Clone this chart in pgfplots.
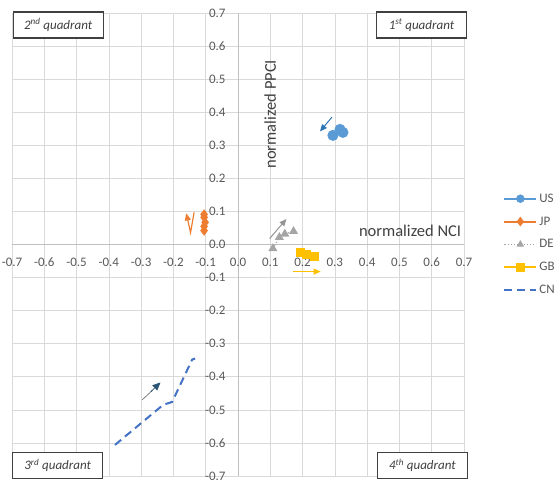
\documentclass[border=0pt]{standalone}
\usepackage{pgfplots}
\pgfplotsset{compat=1.18}
\usepackage{fontspec}
\setmainfont{Carlito}
\usetikzlibrary{arrows.meta,calc}

\definecolor{usblue}{HTML}{5B9BD5}
\definecolor{jporange}{HTML}{ED7D31}
\definecolor{degray}{HTML}{A5A5A5}
\definecolor{gbyellow}{HTML}{FFC000}
\definecolor{cnblue}{HTML}{4472C4}
\definecolor{gridgray}{HTML}{D9D9D9}
\definecolor{zerogray}{HTML}{BFBFBF}
\definecolor{ticktext}{HTML}{595959}
\definecolor{boxgray}{HTML}{404040}
\definecolor{arrowus}{HTML}{2E75B6}
\definecolor{arrowcn}{HTML}{2A5673}

\begin{document}
\begin{tikzpicture}
\begin{axis}[
  name=ax,
  scale only axis,
  width=452pt, height=463pt,
  xmin=-0.7, xmax=0.7, ymin=-0.7, ymax=0.7,
  axis lines=middle,
  every inner x axis line/.append style={-},
  every inner y axis line/.append style={-},
  axis line style={zerogray, line width=0.8pt},
  hide obscured x ticks=false,
  hide obscured y ticks=false,
  xtick={-0.7,-0.6,-0.5,-0.4,-0.3,-0.2,-0.1,0,0.1,0.2,0.3,0.4,0.5,0.6,0.7},
  ytick={-0.7,-0.6,-0.5,-0.4,-0.3,-0.2,-0.1,0,0.1,0.2,0.3,0.4,0.5,0.6,0.7},
  major tick length=0pt,
  grid=major,
  grid style={gridgray, line width=0.7pt},
  /pgf/number format/assume math mode=true,
  /pgf/number format/fixed,
  /pgf/number format/fixed zerofill,
  /pgf/number format/precision=1,
  ticklabel style={font=\fontsize{13}{15}\selectfont, text=ticktext},
  xticklabel style={anchor=north, yshift=-10pt},
  yticklabel style={anchor=east, xshift=-9pt},
  clip=false,
  legend style={at={(1.08,0.5)}, anchor=west, draw=none, fill=none,
    font=\fontsize{13}{15}\selectfont, text=ticktext, row sep=9pt},
  legend cell align=left,
  legend image code/.code={
    \draw[mark repeat=2, mark phase=2, mark size=3.2pt]
      plot coordinates {(0pt,0pt) (16pt,0pt) (32pt,0pt)};
  },
]
% trajectories of the five countries
\addplot[color=usblue, line width=2pt, mark=*, mark size=4.5pt,
  mark options={solid}] coordinates {(0.294,0.330) (0.325,0.339) (0.316,0.348)};
\addlegendentry{US}
\addplot[color=jporange, line width=2pt, mark=diamond*, mark size=3.5pt,
  mark options={solid}] coordinates {(-0.105,0.091) (-0.105,0.082) (-0.102,0.067) (-0.105,0.055) (-0.105,0.042)};
\addlegendentry{JP}
\addplot[color=degray, line width=1.2pt, dotted, mark=triangle*, mark size=4pt,
  mark options={solid}] coordinates {(0.108,-0.012) (0.128,0.022) (0.145,0.032) (0.172,0.040)};
\addlegendentry{DE}
\addplot[color=gbyellow, line width=2pt, mark=square*, mark size=3.5pt,
  mark options={solid}] coordinates {(0.194,-0.023) (0.213,-0.030) (0.238,-0.036)};
\addlegendentry{GB}
\addplot[color=cnblue, line width=2pt, dash pattern=on 8pt off 5pt] coordinates {(-0.381,-0.606) (-0.232,-0.485) (-0.204,-0.476) (-0.142,-0.348) (-0.133,-0.345)};
\addlegendentry{CN}

% direction arrows
\draw[arrowus, line width=1pt, -{Triangle[length=7pt,width=6pt]}] (axis cs:0.291,0.385) -- (axis cs:0.254,0.342);
\draw[jporange, line width=1.2pt, -{Triangle[length=7pt,width=6pt]}] (axis cs:-0.136,0.097) -- (axis cs:-0.147,0.036) -- (axis cs:-0.160,0.094);
\draw[degray!90!black, line width=1pt, -{Triangle[length=7pt,width=6pt]}] (axis cs:0.098,0.018) -- (axis cs:0.150,0.077);
\draw[gbyellow, line width=1pt, -{Triangle[length=7pt,width=6pt]}] (axis cs:0.170,-0.082) -- (axis cs:0.256,-0.082);
\draw[gray, line width=0.8pt] (axis cs:-0.297,-0.470) -- (axis cs:-0.265,-0.441);
\draw[arrowcn, line width=0.8pt, -{Triangle[length=8pt,width=7pt]}] (axis cs:-0.270,-0.445) -- (axis cs:-0.240,-0.417);

% axis names
\node[rotate=90, font=\fontsize{16.5}{19}\selectfont, text=boxgray] at (axis cs:0.10,0.394) {normalized PPCI};
\node[font=\fontsize{16.5}{19}\selectfont, text=boxgray] at (axis cs:0.533,0.040) {normalized NCI};

% quadrant tags
\tikzset{quad/.style={draw=boxgray, line width=1.2pt, fill=white,
  minimum width=90pt, minimum height=26pt, inner sep=2pt,
  font=\itshape\fontsize{13}{15}\selectfont, text=boxgray}}
\node[quad] at (rel axis cs:0.102,0.974) {2\textsuperscript{nd} quadrant};
\node[quad] at (rel axis cs:0.906,0.974) {1\textsuperscript{st} quadrant};
\node[quad] at (rel axis cs:0.101,0.023) {3\textsuperscript{rd} quadrant};
\node[quad] at (rel axis cs:0.908,0.023) {4\textsuperscript{th} quadrant};
\end{axis}
\pgfresetboundingbox
\path ($(ax.south west)+(-12pt,-4pt)$) rectangle ($(ax.north east)+(94pt,13pt)$);
\end{tikzpicture}
\end{document}
